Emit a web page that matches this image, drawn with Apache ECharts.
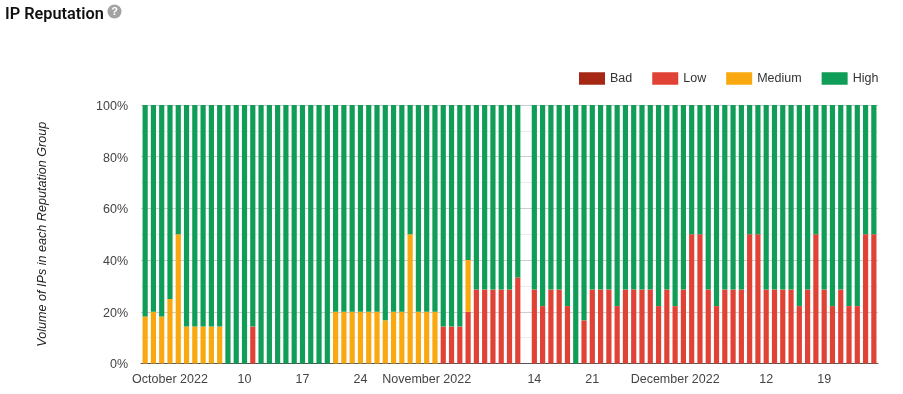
<!DOCTYPE html>
<html>
<head>
<meta charset="utf-8">
<style>html,body{margin:0;padding:0;background:#fff}#c{width:903px;height:394px}</style>
<script src="https://cdn.jsdelivr.net/npm/echarts@6/dist/echarts.min.js"></script>
</head>
<body>
<div id="c"></div>
<script>
const categories = [
"09-28","09-29","09-30",
"10-01","10-02","10-03","10-04","10-05","10-06","10-07","10-08","10-09","10-10","10-11","10-12","10-13","10-14","10-15","10-16","10-17","10-18","10-19","10-20","10-21","10-22","10-23","10-24","10-25","10-26","10-27","10-28","10-29","10-30","10-31",
"11-01","11-02","11-03","11-04","11-05","11-06","11-07","11-08","11-09","11-10","11-11","11-12","11-13","11-14","11-15","11-16","11-17","11-18","11-19","11-20","11-21","11-22","11-23","11-24","11-25","11-26","11-27","11-28","11-29","11-30",
"12-01","12-02","12-03","12-04","12-05","12-06","12-07","12-08","12-09","12-10","12-11","12-12","12-13","12-14","12-15","12-16","12-17","12-18","12-19","12-20","12-21","12-22","12-23","12-24","12-25"];
const tickLabels = {"10-01":"October 2022","10-10":"10","10-17":"17","10-24":"24","11-01":"November 2022","11-14":"14","11-21":"21","12-01":"December 2022","12-12":"12","12-19":"19"};
const yTicks = [0,20,40,60,80,100];
const bad = [
0,0,0,0,0,0,0,0,0,0,
0,0,0,0,0,0,0,0,0,0,
0,0,0,0,0,0,0,0,0,0,
0,0,0,0,0,0,0,0,0,0,
0,0,0,0,0,0,0,0,0,0,
0,0,0,0,0,0,0,0,0,0,
0,0,0,0,0,0,0,0,0,0,
0,0,0,0,0,0,0,0,0,0,
0,0,0,0,0,0,0,0,0];
const low = [
0,0,0,0,0,0,0,0,0,0,
0,0,0,14.3,0,0,0,0,0,0,
0,0,0,0,0,0,0,0,0,0,
0,0,0,0,0,0,14.3,14.3,14.3,20,
28.6,28.6,28.6,28.6,28.6,33.3,0,28.6,22.2,28.6,
28.6,22.2,0,16.7,28.6,28.6,28.6,22.2,28.6,28.6,
28.6,28.6,22.2,28.6,22.2,28.6,50,50,28.6,22.2,
28.6,28.6,28.6,50,50,28.6,28.6,28.6,28.6,22.2,
28.6,50,28.6,22.2,28.6,22.2,22.2,50,50];
const medium = [
18.2,20,18.2,25,50,14.3,14.3,14.3,14.3,14.3,
0,0,0,0,0,0,0,0,0,0,
0,0,0,20,20,20,20,20,20,16.7,
20,20,50,20,20,20,0,0,0,20,
0,0,0,0,0,0,0,0,0,0,
0,0,0,0,0,0,0,0,0,0,
0,0,0,0,0,0,0,0,0,0,
0,0,0,0,0,0,0,0,0,0,
0,0,0,0,0,0,0,0,0];
const high = [
81.8,80,81.8,75,50,85.7,85.7,85.7,85.7,85.7,
100,100,100,85.7,100,100,100,100,100,100,
100,100,100,80,80,80,80,80,80,83.3,
80,80,50,80,80,80,85.7,85.7,85.7,60,
71.4,71.4,71.4,71.4,71.4,66.7,0,71.4,77.8,71.4,
71.4,77.8,100,83.3,71.4,71.4,71.4,77.8,71.4,71.4,
71.4,71.4,77.8,71.4,77.8,71.4,50,50,71.4,77.8,
71.4,71.4,71.4,50,50,71.4,71.4,71.4,71.4,77.8,
71.4,50,71.4,77.8,71.4,77.8,77.8,50,50];

const FONT = '"Liberation Sans", Arial, sans-serif';
const mk = (name, data, color) => ({
  name, type: 'bar', stack: 'rep', data, barWidth: 5.2,
  itemStyle: { color }, emphasis: { disabled: true }, animation: false
});
const chart = echarts.init(document.getElementById('c'), null, { renderer: 'canvas' });
chart.setOption({
  animation: false,
  backgroundColor: '#fff',
  title: {
    text: 'IP Reputation', left: 0, top: 2,
    textStyle: { fontFamily: 'Roboto', fontWeight: 600, fontSize: 16.3, color: '#111' }
  },
  legend: {
    left: 574, top: 67, icon: 'rect', itemWidth: 26, itemHeight: 12.5, itemGap: 20,
    textStyle: { fontFamily: FONT, fontSize: 12.5, color: '#333' },
    data: ['Bad','Low','Medium','High'], selectedMode: false
  },
  grid: { left: 141, right: 25, top: 105, bottom: 30.5, containLabel: false },
  xAxis: {
    type: 'category', data: categories,
    axisTick: { show: false },
    axisLine: { lineStyle: { color: '#555', width: 1 } },
    axisLabel: {
      interval: (i, v) => v in tickLabels,
      formatter: v => tickLabels[v] || '',
      color: '#444', fontFamily: FONT, fontSize: 12.5, margin: 10, hideOverlap: false
    }
  },
  yAxis: {
    type: 'value', min: yTicks[0], max: yTicks[yTicks.length-1], interval: 20,
    name: 'Volume of IPs in each Reputation Group', nameLocation: 'middle', nameGap: 92, nameRotate: 90,
    nameTextStyle: { fontFamily: FONT, fontStyle: 'italic', fontSize: 12.6, color: '#222' },
    axisLine: { show: false }, axisTick: { show: false },
    axisLabel: {
      formatter: '{t|{value}%}', margin: 13,
      rich: { t: { color: '#444', fontFamily: FONT, fontSize: 12.5, padding: [3,0,0,0] } }
    },
    splitLine: { show: true, lineStyle: { color: '#ccc', width: 1 } },
    minorTick: { show: false, splitNumber: 2 },
    minorSplitLine: { show: true, lineStyle: { color: '#ebebeb', width: 1 } }
  },
  graphic: [
    { type: 'circle', shape: { cx: 114.5, cy: 11.5, r: 7 }, style: { fill: '#a3a3a3' }, silent: true },
    { type: 'text', x: 114.5, y: 11.5, silent: true, style: { text: '?', fill: '#fff', font: 'bold 11px ' + FONT, align: 'center', verticalAlign: 'middle' } }
  ],
  series: [
    mk('Bad', bad, '#a52714'),
    mk('Low', low, '#e04335'),
    mk('Medium', medium, '#f9a80f'),
    mk('High', high, '#0f9d58')
  ]
});
</script>
</body>
</html>
